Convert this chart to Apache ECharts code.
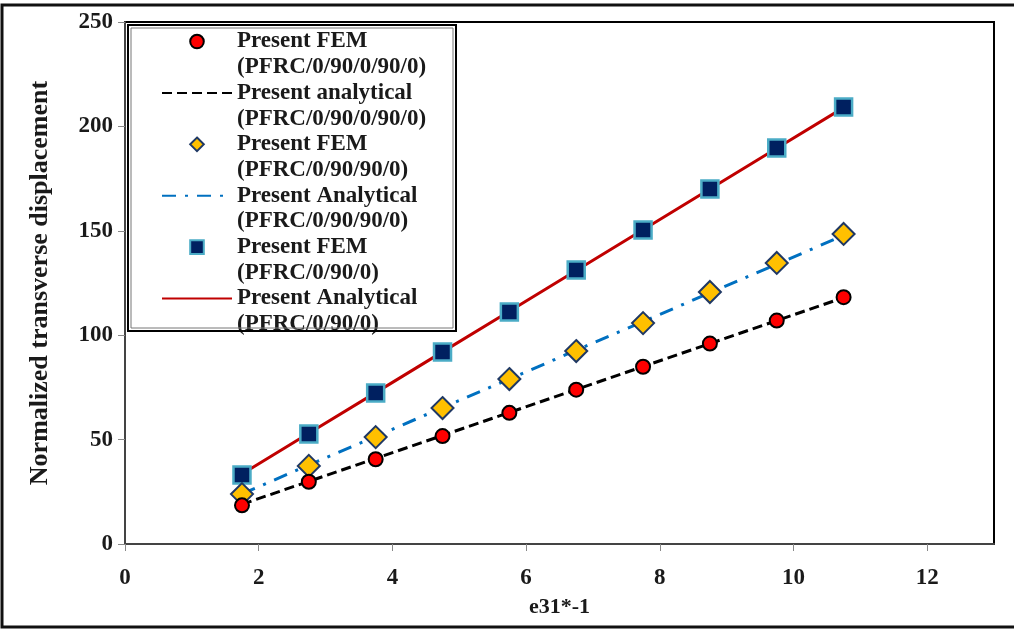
<!DOCTYPE html>
<html>
<head>
<meta charset="utf-8">
<script src="https://cdn.jsdelivr.net/npm/echarts@6/dist/echarts.min.js"></script>
<style>
html,body{margin:0;padding:0;background:#fff;}
#chart{width:1014px;height:630px;}
</style>
</head>
<body>
<div id="chart"></div>
<script>
// ---- data ----
const xValues = [1.75, 2.75, 3.75, 4.75, 5.75, 6.75, 7.75, 8.75, 9.75, 10.75];
const femA = [18.5, 29.8, 40.6, 51.7, 62.8, 73.9, 84.9, 96.0, 107.0, 118.2];
const anaA = [19.0, 30.0, 41.0, 52.0, 63.0, 74.0, 85.0, 96.0, 107.0, 118.0];
const femB = [23.9, 37.4, 51.2, 65.1, 79.0, 92.4, 105.8, 120.7, 134.6, 148.5];
const anaB = [24.0, 37.8, 51.5, 65.3, 79.0, 92.8, 106.5, 120.3, 134.0, 147.8];
const femC = [33.0, 52.7, 72.3, 92.0, 111.1, 131.2, 150.4, 170.0, 189.7, 209.3];
const anaC = [33.5, 53.0, 72.5, 92.0, 111.5, 131.0, 150.5, 170.0, 189.5, 209.0];
const names = [
  'Present FEM\n(PFRC/0/90/0/90/0)',
  'Present analytical\n(PFRC/0/90/0/90/0)',
  'Present FEM\n(PFRC/0/90/90/0)',
  'Present Analytical\n(PFRC/0/90/90/0)',
  'Present FEM\n(PFRC/0/90/0)',
  'Present Analytical\n(PFRC/0/90/0)'
];
const xTicks = [0, 2, 4, 6, 8, 10, 12];
const xTitle = 'e31*-1';
const yTitle = 'Normalized transverse displacement';

const pairs = arr => xValues.map((x, i) => [x, arr[i]]);
const FONT = '"Liberation Serif", "Times New Roman", serif';

const chart = echarts.init(document.getElementById('chart'), null, {renderer: 'canvas'});

function femSeries(name, data, symbol, size, fill, border, bw, z) {
  return {
    name, type: 'line', data: pairs(data), symbol, symbolSize: size,
    showAllSymbol: true,
    lineStyle: {width: 0, opacity: 0},
    itemStyle: {color: fill, borderColor: border, borderWidth: bw, opacity: 1},
    z: z, animation: false
  };
}
function anaSeries(name, data, color, dash) {
  return {
    name, type: 'line', data: pairs(data), symbol: 'none',
    lineStyle: {color, width: 3, type: dash},
    itemStyle: {color},
    z: 2, animation: false
  };
}

const legendData = names.map((n, i) => (i % 2 === 1)
  ? {name: n, itemStyle: {opacity: 0}}
  : {name: n});

chart.setOption({
  backgroundColor: '#fff',
  animation: false,
  grid: {left: 125, right: 20, top: 22, bottom: 86, show: true, borderColor: '#000', borderWidth: 2, backgroundColor: 'transparent'},
  xAxis: {
    type: 'value', min: 0, max: 13, interval: 2,
    name: xTitle, nameLocation: 'middle', nameGap: 52,
    nameTextStyle: {fontFamily: FONT, fontWeight: 'bold', fontSize: 22, color: '#1a1a1a'},
    axisLine: {show: true, onZero: false, lineStyle: {color: '#444', width: 2}},
    axisTick: {show: true, length: 7, inside: false, lineStyle: {color: '#888', width: 1}, customValues: xTicks},
    axisLabel: {fontFamily: FONT, fontWeight: 'bold', fontSize: 23, color: '#1a1a1a', margin: 23, customValues: xTicks},
    splitLine: {show: false}
  },
  yAxis: {
    type: 'value', min: 0, max: 250, interval: 50,
    name: yTitle, nameLocation: 'middle', nameGap: 72, nameRotate: 90,
    nameTextStyle: {fontFamily: FONT, fontWeight: 'bold', fontSize: 26, color: '#1a1a1a'},
    axisLine: {show: true, lineStyle: {color: '#444', width: 2}},
    axisTick: {show: true, length: 7, lineStyle: {color: '#888', width: 1}},
    axisLabel: {fontFamily: FONT, fontWeight: 'bold', fontSize: 23, color: '#1a1a1a', margin: 12},
    splitLine: {show: false}
  },
  legend: {
    orient: 'vertical', left: 161, top: 3,
    itemWidth: 70, itemHeight: 17, itemGap: -25.7,
    padding: 0,
    data: legendData,
    formatter: n => ' \n' + n,
    textStyle: {fontFamily: FONT, fontWeight: 'bold', fontSize: 23, color: '#1a1a1a', lineHeight: 25.7},
    backgroundColor: 'transparent'
  },
  graphic: [
    {type: 'rect', z: 100, silent: true, shape: {x: 128, y: 25, width: 328, height: 306},
     style: {fill: 'transparent', stroke: '#000', lineWidth: 2}},
    {type: 'rect', z: 100, silent: true, shape: {x: 131, y: 28, width: 322, height: 300},
     style: {fill: 'transparent', stroke: '#777', lineWidth: 1}},
    {type: 'rect', z: 100, silent: true, shape: {x: 2, y: 5, width: 1030, height: 622},
     style: {fill: 'transparent', stroke: '#111', lineWidth: 3}}
  ],
  series: [
    femSeries(names[0], femA, 'circle', 14, '#ff0000', '#000', 2, 5),
    anaSeries(names[1], anaA, '#000000', [10, 5]),
    femSeries(names[2], femB, 'diamond', 22, '#ffc000', '#1f3864', 2, 4),
    anaSeries(names[3], anaB, '#0070c0', [14, 9, 3, 9]),
    femSeries(names[4], femC, 'rect', 17, '#002060', '#4bacc6', 2.5, 3),
    anaSeries(names[5], anaC, '#c00000', 'solid')
  ]
});
</script>
</body>
</html>
